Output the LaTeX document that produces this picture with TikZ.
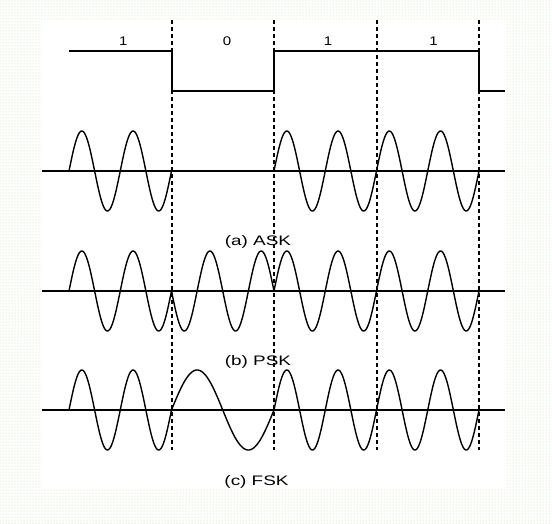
\documentclass[tikz,border=0pt]{standalone}
\usepackage{fontspec}
\setmainfont{Liberation Sans}
\usepackage{graphicx}
\usetikzlibrary{patterns}
\definecolor{dotgreen}{RGB}{190,222,160}
\begin{document}
\begin{tikzpicture}[x=1pt,y=-1pt,
  sig/.style={line width=1.8pt, line join=miter},
  axisline/.style={line width=1.8pt},
  wave/.style={line width=1.4pt, line join=round},
  divider/.style={line width=1.7pt, dash pattern=on 3.5pt off 3.5pt},
  lbl/.style={font=\fontsize{13.8}{14}\selectfont, anchor=base, inner sep=0pt},
  bitlbl/.style={font=\fontsize{12.5}{13}\selectfont, anchor=base, inner sep=0pt}]
% background
\fill[white] (0,0) rectangle (552,523);
\fill[pattern=dots, pattern color=dotgreen] (0,0) rectangle (552,523);
\useasboundingbox (0,0) rectangle (552,523);
\fill[white] (42,20) rectangle (507,488);

% dashed bit boundaries
\foreach \b in {172,274,377,479}
  \draw[divider] (\b,20) -- (\b,450);

% digital signal
\draw[sig] (69,51) -- (172,51) -- (172,91) -- (274,91) -- (274,51)
  -- (479,51) -- (479,91) -- (505,91);
\node[bitlbl] (b1) at (123.3,45.5) {\scalebox{1.2}[1]{1}};
\node[bitlbl] (b2) at (227,45.5) {\scalebox{1.2}[1]{0}};
\node[bitlbl] (b3) at (328,45.5) {\scalebox{1.2}[1]{1}};
\node[bitlbl] (b4) at (433.5,45.5) {\scalebox{1.2}[1]{1}};

% ASK
\draw[axisline] (42,171) -- (505,171);
\draw[wave] plot[domain=69:171.5, samples=140] (\x, {171 - 40*sin((\x-69)*7.02439)});
\draw[wave] plot[domain=274:479, samples=280] (\x, {171 - 40*sin((\x-274)*7.02439)});
\node[lbl] (ask) at (258,245.5) {\scalebox{1.37}[1]{(a) ASK}};

% PSK
\draw[axisline] (42,291) -- (505,291);
\draw[wave] plot[domain=69:171.5, samples=140] (\x, {291 - 40*sin((\x-69)*7.02439)});
\draw[wave] plot[domain=171.5:274, samples=140] (\x, {291 + 40*sin((\x-171.5)*7.02439)});
\draw[wave] plot[domain=274:479, samples=280] (\x, {291 - 40*sin((\x-274)*7.02439)});
\node[lbl] (psk) at (258,365) {\scalebox{1.37}[1]{(b) PSK}};

% FSK
\draw[axisline] (42,410) -- (505,410);
\draw[wave] plot[domain=69:171.5, samples=140] (\x, {410 - 40*sin((\x-69)*7.02439)});
\draw[wave] plot[domain=171.5:274, samples=140] (\x, {410 - 40*sin((\x-171.5)*3.512195)});
\draw[wave] plot[domain=274:479, samples=280] (\x, {410 - 40*sin((\x-274)*7.02439)});
\node[lbl] (fsk) at (256.5,485) {\scalebox{1.37}[1]{(c) FSK}};
\end{tikzpicture}
\end{document}
